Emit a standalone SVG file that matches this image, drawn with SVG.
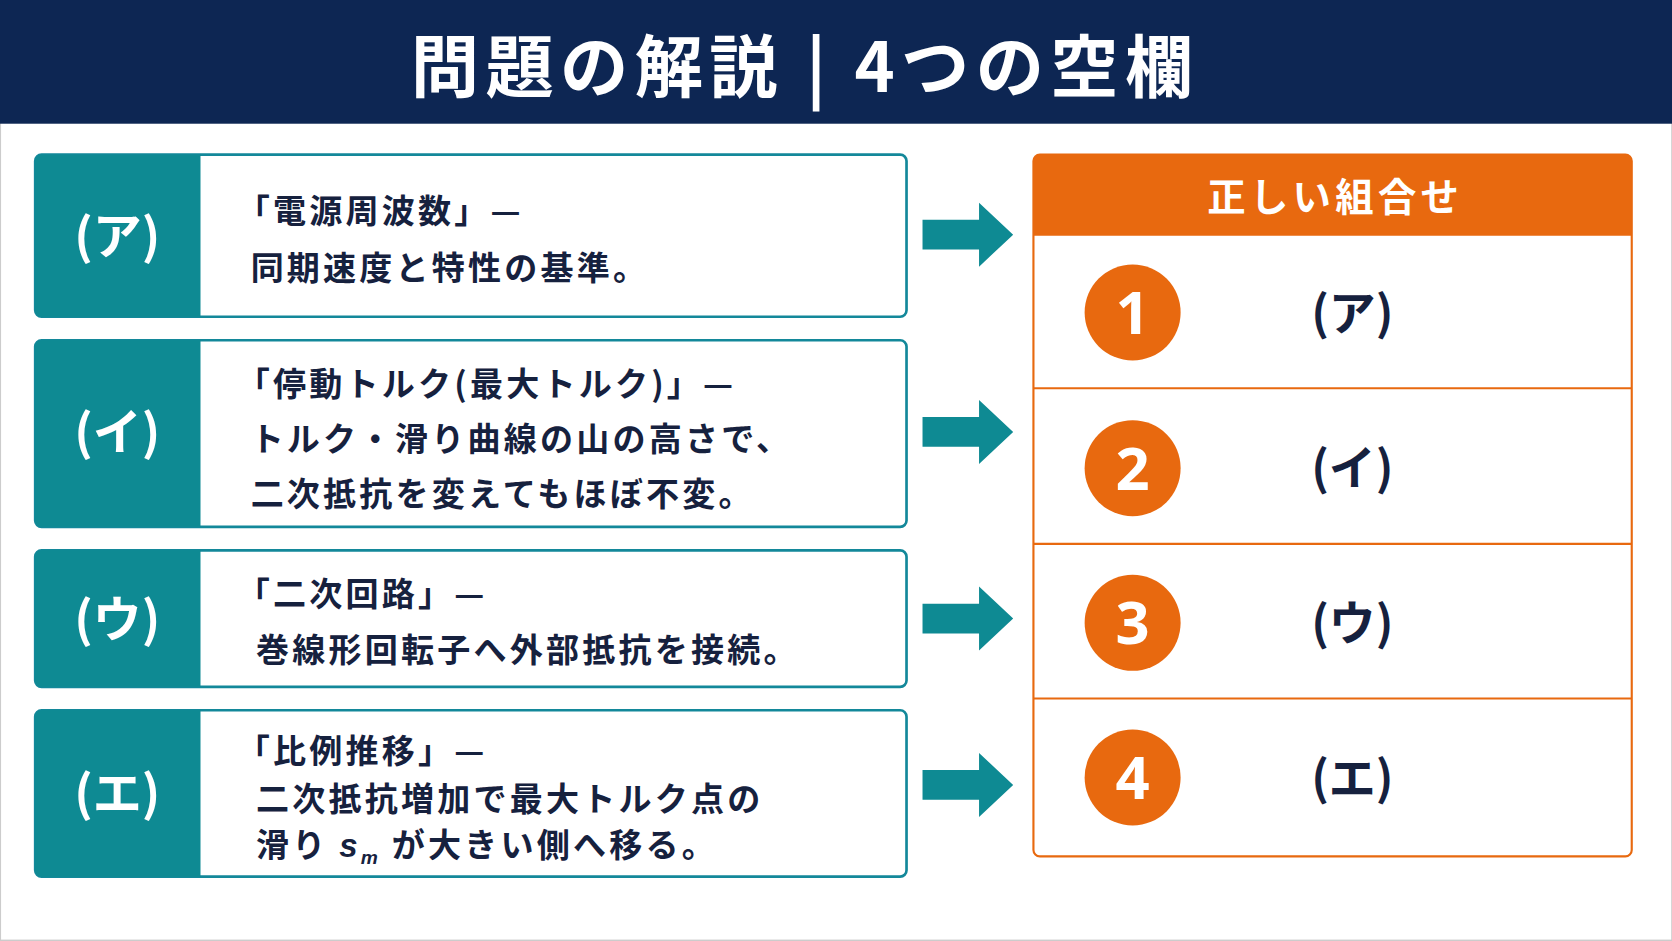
<svg xmlns="http://www.w3.org/2000/svg" width="1672" height="941" viewBox="0 0 1672 941">
<style>
.lb{fill:#fff;stroke:#13889a;stroke-width:2.5}
.tl{fill:#0e8a93}
.lab{font-family:"Noto Sans CJK JP","Noto Sans",sans-serif;font-weight:700;font-size:46px;fill:#fff;text-anchor:middle}
.t{font-family:"Noto Sans CJK JP","Noto Sans",sans-serif;font-weight:700;font-size:31px;fill:#16213e;letter-spacing:3px}
.arr{fill:#0e8a93}
.num{font-family:"Noto Sans","Noto Sans CJK JP",sans-serif;font-weight:700;font-size:56px;fill:#fff;text-anchor:middle}
.ans{font-family:"Noto Sans CJK JP","Noto Sans",sans-serif;font-weight:700;font-size:44px;fill:#16213e;text-anchor:middle}
</style>
<g transform="scale(1.0665)">
<rect x="0" y="0" width="1568" height="882" fill="#fff" stroke="#ccc" stroke-width="2"/>
<g id="header"><rect x="0" y="0" width="1568" height="116" fill="#0d2653"/>
<text x="755" y="86" text-anchor="middle" font-family="Noto Sans CJK JP,sans-serif" font-weight="700" font-size="64" fill="#fff" letter-spacing="6">問題の解説 | 4つの空欄</text></g>

<g id="row-a"><rect class="lb" x="33" y="145" width="817" height="152" rx="6"/><path class="tl" d="M39,145H188V297H39a6,6 0 0 1-6-6V151a6,6 0 0 1 6-6z"/>
<text class="lab" x="110" y="238">(ア)</text>
<text class="t" x="222" y="209">「電源周波数」—</text><text class="t" x="235" y="263">同期速度と特性の基準。</text></g>
<g id="row-i"><rect class="lb" x="33" y="319" width="817" height="175" rx="6"/><path class="tl" d="M39,319H188V494H39a6,6 0 0 1-6-6V325a6,6 0 0 1 6-6z"/>
<text class="lab" x="110" y="422">(イ)</text>
<text class="t" x="222" y="371">「停動トルク(最大トルク)」—</text><text class="t" x="235" y="423">トルク・滑り曲線の山の高さで、</text><text class="t" x="235" y="474">二次抵抗を変えてもほぼ不変。</text></g>
<g id="row-u"><rect class="lb" x="33" y="516" width="817" height="128" rx="6"/><path class="tl" d="M39,516H188V644H39a6,6 0 0 1-6-6V522a6,6 0 0 1 6-6z"/>
<text class="lab" x="110" y="597">(ウ)</text>
<text class="t" x="222" y="568">「二次回路」—</text><text class="t" x="240" y="621">巻線形回転子へ外部抵抗を接続。</text></g>
<g id="row-e"><rect class="lb" x="33" y="666" width="817" height="156" rx="6"/><path class="tl" d="M39,666H188V822H39a6,6 0 0 1-6-6V672a6,6 0 0 1 6-6z"/>
<text class="lab" x="110" y="760">(エ)</text>
<text class="t" x="222" y="715">「比例推移」—</text><text class="t" x="240" y="760">二次抵抗増加で最大トルク点の</text><text class="t" x="240" y="804">滑り <tspan font-family="Liberation Sans,sans-serif" font-style="italic">s<tspan font-size="18" dy="6">m</tspan></tspan><tspan dy="-6"> が大きい側へ移る。</tspan></text></g>

<g id="connectors">
<path class="arr" d="M865,206H918V190L950,220L918,250V234H865z"/>
<path class="arr" d="M865,391H918V375L950,405L918,435V419H865z"/>
<path class="arr" d="M865,566H918V550L950,580L918,610V594H865z"/>
<path class="arr" d="M865,722H918V706L950,736L918,766V750H865z"/>
</g>

<g id="answers">
<rect x="969" y="145" width="561" height="658" rx="6" fill="#fff" stroke="#e8690f" stroke-width="2"/>
<path d="M975,145H1524a6,6 0 0 1 6,6V221H969V151a6,6 0 0 1 6-6z" fill="#e8690f"/>
<text x="1252" y="198" text-anchor="middle" font-family="Noto Sans CJK JP,sans-serif" font-weight="700" font-size="36" fill="#fff" letter-spacing="4">正しい組合せ</text>
<g stroke="#e8690f" stroke-width="2"><line x1="969" y1="364" x2="1530" y2="364"/><line x1="969" y1="510" x2="1530" y2="510"/><line x1="969" y1="655" x2="1530" y2="655"/></g>
<g fill="#e8690f"><circle cx="1062" cy="293" r="45"/><circle cx="1062" cy="439" r="45"/><circle cx="1062" cy="584" r="45"/><circle cx="1062" cy="729" r="45"/></g>
<text class="num" x="1062" y="313">1</text><text class="num" x="1062" y="459">2</text><text class="num" x="1062" y="604">3</text><text class="num" x="1062" y="749">4</text>
<text class="ans" x="1268" y="309">(ア)</text><text class="ans" x="1268" y="455">(イ)</text><text class="ans" x="1268" y="600">(ウ)</text><text class="ans" x="1268" y="745">(エ)</text>
</g>
</g>
</svg>
